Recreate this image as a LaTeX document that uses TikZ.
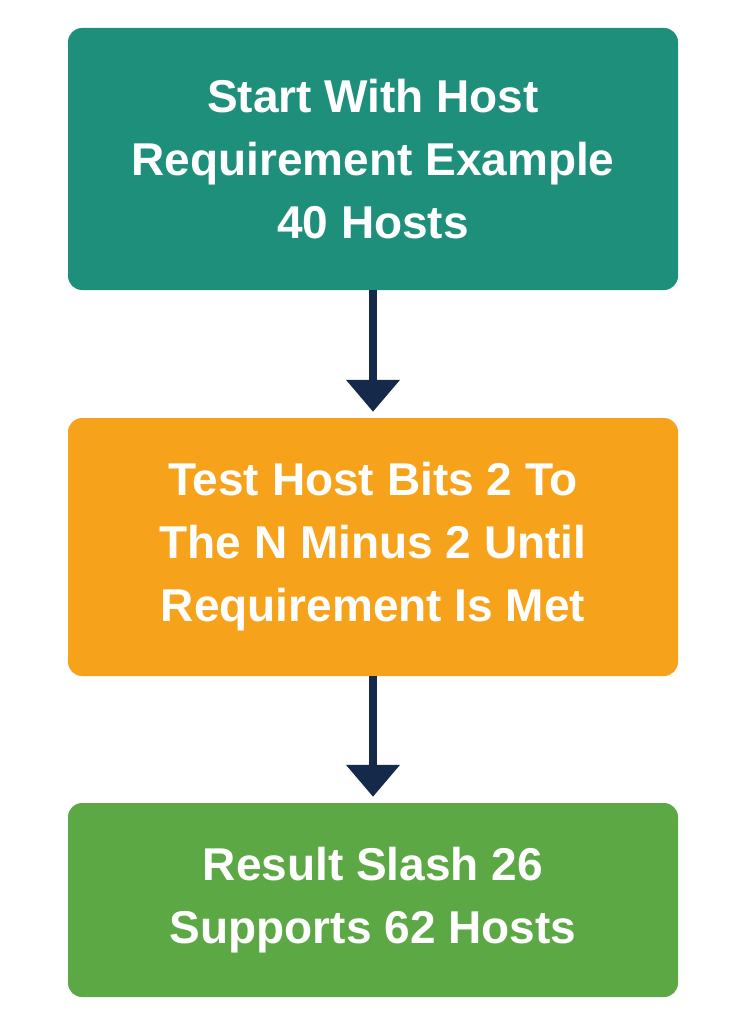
\documentclass[tikz,border=0pt]{standalone}
\usepackage{fontspec}
\setmainfont{Liberation Sans}
\usetikzlibrary{arrows.meta}
\definecolor{cteal}{HTML}{1E8F7A}
\definecolor{corange}{HTML}{F7A21B}
\definecolor{cgreen}{HTML}{5BA845}
\definecolor{cnavy}{HTML}{15294A}
\begin{document}
\begin{tikzpicture}[x=1pt,y=1pt,
  box/.style={rounded corners=14pt,minimum width=610pt,text=white,align=center,
    font=\fontsize{46}{63}\selectfont\bfseries,inner sep=0pt},
  conn/.style={cnavy,line width=8pt,-{Triangle[width=52pt,length=32pt]}}]
\useasboundingbox (0,0) rectangle (747,-1024);
\node[box,fill=cteal,minimum height=262pt] (a) at (373,-159) {Start With Host\\Requirement Example\\40 Hosts};
\node[box,fill=corange,minimum height=258pt] (b) at (373,-547) {Test Host Bits 2 To\\The N Minus 2 Until\\Requirement Is Met};
\node[box,fill=cgreen,minimum height=194pt] (c) at (373,-900) {Result Slash 26\\Supports 62 Hosts};
\draw[conn] (a.south) -- ([yshift=6pt]b.north);
\draw[conn] (b.south) -- ([yshift=6pt]c.north);
\end{tikzpicture}
\end{document}
